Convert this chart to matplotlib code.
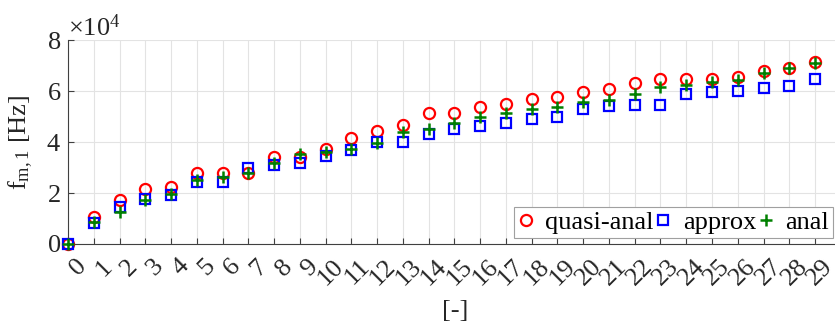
import numpy as np
import matplotlib
matplotlib.use("Agg")
import matplotlib.pyplot as plt
import matplotlib.transforms as mtransforms
from matplotlib.ticker import ScalarFormatter

plt.rcParams['font.family'] = ['Liberation Serif', 'DejaVu Serif']
plt.rcParams['mathtext.fontset'] = 'custom'
plt.rcParams['mathtext.rm'] = 'Liberation Serif'
plt.rcParams['mathtext.it'] = 'Liberation Serif:italic'

# mode index
modes = list(range(30))
tick_labels = [str(m) for m in modes]

# first flexural frequency f_m,1 [Hz]
quasi_anal = [0, 10500, 17300, 21600, 22500, 27800, 27800, 27800, 34000, 34200,
              37100, 41600, 44300, 46700, 51200, 51500, 53900, 54900, 56900, 57600,
              59500, 60700, 63300, 64600, 64600, 64700, 65600, 68000, 69200, 71200]
approx = [0, 8400, 14400, 17600, 19200, 24400, 24400, 29900, 31000, 31900,
          34600, 36900, 39900, 39900, 43000, 45000, 46400, 47300, 48900, 49900,
          52800, 54100, 54500, 54600, 58800, 59600, 60100, 61300, 62000, 64700]
anal = [0, 8800, 12700, 17300, 19500, 25100, 26400, 28000, 31600, 35200,
        36200, 37300, 39500, 44100, 45000, 47300, 49900, 51200, 52900, 53600,
        55800, 56500, 58700, 61400, 62400, 63700, 64300, 67200, 68900, 70800]

FS = 19

fig = plt.figure(figsize=(8.35, 3.23), dpi=100)
ax = fig.add_axes([68 / 835, 79 / 323, 30 * 25.76 / 835, 204 / 323])

ax.plot(modes, quasi_anal, 'o', color='#ff0000', mfc='none', ms=8, mew=1.6,
        label='quasi-anal', clip_on=False, zorder=3)
ax.plot(modes, approx, 's', color='#0000ff', mfc='none', ms=6.5, mew=1.6,
        label='approx', clip_on=False, zorder=4)
ax.plot(modes, anal, '+', color='#008000', ms=8, mew=1.8,
        label='anal', clip_on=False, zorder=5)

ax.set_xlim(0, 30)
ax.set_ylim(0, 80000)
ax.set_xticks(modes)
ax.set_xticklabels(tick_labels)
ax.set_yticks([0, 20000, 40000, 60000, 80000])

fmt = ScalarFormatter(useMathText=True)
fmt.set_powerlimits((0, 0))
ax.yaxis.set_major_formatter(fmt)
ax.yaxis.get_offset_text().set_fontsize(FS)

ax.grid(True, color='#e3e3e3', lw=0.8)
ax.set_axisbelow(True)
for s in ['top', 'right']:
    ax.spines[s].set_visible(False)
for s in ['left', 'bottom']:
    ax.spines[s].set_color('#404040')
    ax.spines[s].set_linewidth(0.8)

ax.tick_params(axis='both', direction='in', length=4, color='#404040',
               labelsize=FS, labelcolor='#262626')
ax.tick_params(axis='y', pad=5)
ax.tick_params(axis='x', pad=8)
shift = mtransforms.ScaledTranslation(5 / 72, 0, fig.dpi_scale_trans)
for lab in ax.get_xticklabels():
    lab.set_rotation(45)
    lab.set_ha('right')
    lab.set_va('top')
    lab.set_rotation_mode('anchor')
    lab.set_transform(lab.get_transform() + shift)

ax.set_ylabel(r'f$_{\rm m,1}$ [Hz]', fontsize=FS, color='#262626')
ax.yaxis.set_label_coords(-0.043, 0.5)
ax.set_xlabel('[-]', fontsize=FS, color='#262626')
ax.xaxis.set_label_coords((455 - 68) / (30 * 25.76), -0.275)

leg = ax.legend(loc='lower right', bbox_to_anchor=(833 / 835, 85 / 323),
                bbox_transform=fig.transFigure, ncol=3, fontsize=FS,
                frameon=True, fancybox=False, framealpha=1, edgecolor='#a0a0a0',
                handlelength=0.6, handletextpad=0.45, columnspacing=0.05,
                borderpad=0.15, borderaxespad=0)
leg.get_frame().set_linewidth(0.8)

fig.savefig('out.png', dpi=100)
